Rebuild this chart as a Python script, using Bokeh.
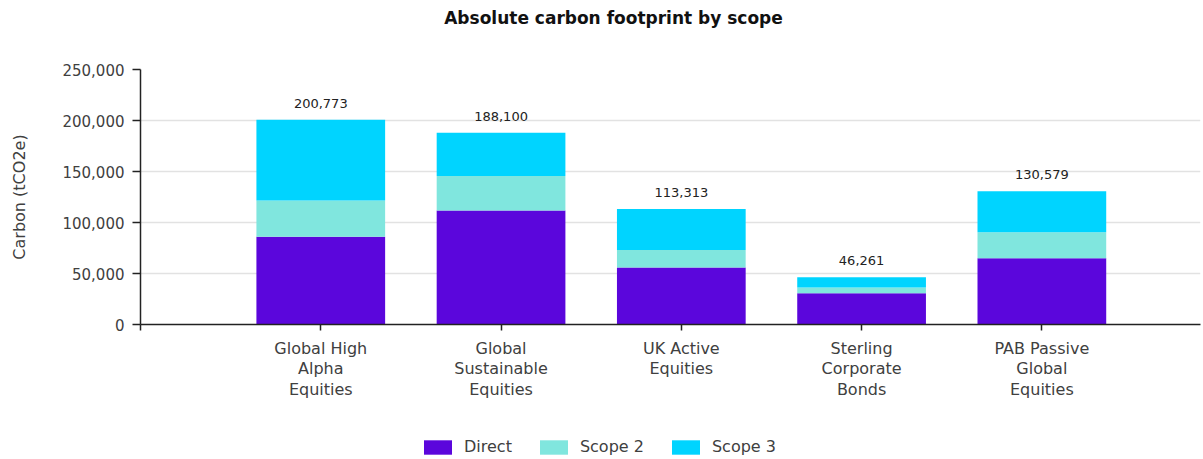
from bokeh.plotting import figure
from bokeh.layouts import column
from bokeh.models import (ColumnDataSource, Range1d, FixedTicker, NumeralTickFormatter,
                          Legend, LegendItem, Label)
from bokeh.core.properties import value
from bokeh.embed import file_html
from bokeh.resources import INLINE

# Portfolio categories (axis labels wrap over several lines)
funds = [
    "Global High\nAlpha\nEquities",
    "Global\nSustainable\nEquities",
    "UK Active\nEquities",
    "Sterling\nCorporate\nBonds",
    "PAB Passive\nGlobal\nEquities",
]

# Emissions per scope, tCO2e
direct = [86100, 111700, 55900, 30600, 64900]
scope2 = [35500, 34000, 17100, 5600, 25600]
scope3 = [79173, 42400, 40313, 10061, 40079]

series = ["direct", "scope2", "scope3"]
series_names = ["Direct", "Scope 2", "Scope 3"]
series_colors = ["#5b06dc", "#80e6de", "#00d4ff"]

y_ticks = [0, 50000, 100000, 150000, 200000, 250000]

FONT = "DejaVu Sans"
TEXT_COLOR = "#404040"

xs = list(range(1, len(funds) + 1))
totals = [d + s2 + s3 for d, s2, s3 in zip(direct, scope2, scope3)]
source = ColumnDataSource(dict(
    x=xs, direct=direct, scope2=scope2, scope3=scope3,
    total=totals, label=[f"{t:,}" for t in totals],
))


def strip(height, y_range):
    """A bare full-width figure used for the heading and the legend rows."""
    f = figure(width=1203, height=height, output_backend="svg", toolbar_location=None,
               x_range=Range1d(0, 6), y_range=y_range,
               x_axis_type=None, y_axis_type=None,
               min_border_left=0, min_border_right=0, min_border_top=0,
               min_border_bottom=0)
    f.outline_line_color = None
    f.xgrid.grid_line_color = None
    f.ygrid.grid_line_color = None
    return f


# Heading
head = strip(36, Range1d(0, 1))
head.add_layout(Label(x=473, y=19, x_units="screen", y_units="screen",
                      text="Absolute carbon footprint by scope",
                      text_align="center", text_baseline="middle",
                      text_font=FONT, text_font_size="17px",
                      text_font_style="bold", text_color="#111111"))

# Main chart
p = figure(width=1203, height=389, output_backend="svg", toolbar_location=None,
           x_range=Range1d(0, 5.88), y_range=Range1d(0, 250000),
           min_border_left=140, min_border_right=3, min_border_top=33,
           min_border_bottom=101)
p.outline_line_color = None
p.background_fill_color = "white"
p.border_fill_color = "white"

p.vbar_stack(series, x="x", width=0.714, color=series_colors,
             source=source, line_color=None)

p.text(x="x", y="total", text="label", source=source, y_offset=-12,
       text_align="center", text_baseline="bottom",
       text_font=value(FONT), text_font_size="13px", text_color="#222222")

p.xgrid.grid_line_color = None
p.ygrid.grid_line_color = "#e2e2e2"
p.ygrid.grid_line_width = 1.5
p.ygrid.ticker = FixedTicker(ticks=y_ticks)

p.yaxis.ticker = FixedTicker(ticks=y_ticks)
p.yaxis.formatter = NumeralTickFormatter(format="0,0")
p.yaxis.axis_label = "Carbon (tCO2e)"
p.yaxis.axis_label_text_font = FONT
p.yaxis.axis_label_text_font_size = "16px"
p.yaxis.axis_label_text_font_style = "normal"
p.yaxis.axis_label_text_color = TEXT_COLOR
p.yaxis.axis_label_standoff = 30
p.yaxis.major_label_text_font = FONT
p.yaxis.major_label_text_font_size = "15px"
p.yaxis.major_label_text_color = TEXT_COLOR
p.yaxis.major_label_standoff = 8
p.yaxis.major_tick_out = 8
p.yaxis.major_tick_in = 0
p.yaxis.minor_tick_out = 0
p.yaxis.minor_tick_in = 0
p.yaxis.axis_line_color = "#222222"
p.yaxis.axis_line_width = 1.5
p.yaxis.major_tick_line_color = "#222222"
p.yaxis.major_tick_line_width = 1.5

p.xaxis.ticker = FixedTicker(ticks=[0] + xs)
overrides = {0: ""}
overrides.update({x: name for x, name in zip(xs, funds)})
p.xaxis.major_label_overrides = overrides
p.xaxis.major_label_text_font = FONT
p.xaxis.major_label_text_font_size = "16px"
p.xaxis.major_label_text_color = TEXT_COLOR
p.xaxis.major_label_text_line_height = 1.1
p.xaxis.major_label_standoff = 8
p.xaxis.major_tick_out = 6
p.xaxis.major_tick_in = 0
p.xaxis.minor_tick_out = 0
p.xaxis.minor_tick_in = 0
p.xaxis.axis_line_color = "#222222"
p.xaxis.axis_line_width = 1.5
p.xaxis.major_tick_line_color = "#222222"
p.xaxis.major_tick_line_width = 1.5

# Legend row: the stacked bars here lie below the visible y range, so only
# the legend swatches in the series colours show.
leg = strip(34, Range1d(1e7, 1e7 + 1))
swatches = leg.vbar_stack(series, x="x", width=0.714, color=series_colors,
                          source=source, line_color=None)
lg = Legend(
    items=[LegendItem(label=name, renderers=[r]) for name, r in zip(series_names, swatches)],
    orientation="horizontal", location=(280, 3),
    padding=0, margin=0, spacing=24,
    glyph_width=35, glyph_height=18, label_height=18, label_standoff=9,
    label_text_font=FONT, label_text_font_size="16px",
    label_text_color=TEXT_COLOR, label_text_baseline="middle",
    border_line_color=None, background_fill_alpha=0,
)
leg.add_layout(lg)

open("out.html", "w").write(file_html(column(head, p, leg, spacing=0), INLINE))
